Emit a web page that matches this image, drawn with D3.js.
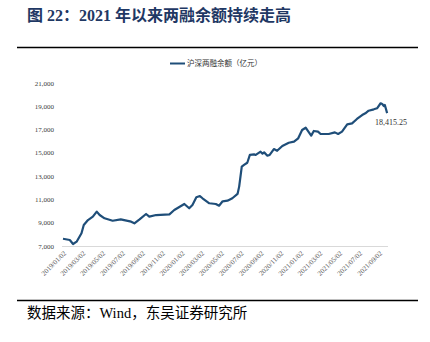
<!DOCTYPE html>
<html><head><meta charset="utf-8">
<script src="https://cdn.jsdelivr.net/npm/d3@7"></script>
<style>
html,body{margin:0;padding:0;background:#fff;}
svg{display:block;}
</style></head>
<body>
<svg id="c" width="430" height="342"></svg>
<script>
const titleText = "图 22：2021 年以来两融余额持续走高";
const sourceText = "数据来源：Wind，东吴证券研究所";
const seriesName = "沪深两融余额（亿元）";
const dates = ["2019-01-02","2019-01-23","2019-02-02","2019-02-13","2019-02-28","2019-03-07","2019-03-20","2019-04-04","2019-04-16","2019-04-25","2019-05-10","2019-06-04","2019-06-29","2019-07-31","2019-08-10","2019-08-26","2019-09-15","2019-09-25","2019-10-16","2019-11-26","2019-12-11","2020-01-11","2020-01-26","2020-02-05","2020-02-17","2020-02-28","2020-03-07","2020-03-28","2020-04-17","2020-04-27","2020-05-08","2020-05-23","2020-06-07","2020-06-23","2020-06-28","2020-07-06","2020-07-13","2020-07-23","2020-07-31","2020-08-13","2020-08-18","2020-09-02","2020-09-08","2020-09-13","2020-09-23","2020-09-30","2020-10-13","2020-10-23","2020-11-08","2020-11-28","2020-12-14","2020-12-27","2021-01-08","2021-01-19","2021-01-29","2021-02-05","2021-02-13","2021-02-26","2021-03-06","2021-03-31","2021-04-19","2021-04-29","2021-05-11","2021-05-27","2021-06-11","2021-06-26","2021-07-12","2021-07-22","2021-08-01","2021-08-17","2021-08-27","2021-09-07","2021-09-12","2021-09-17","2021-09-20","2021-09-27"];
const values = [7620,7515,7170,7370,8090,8800,9230,9520,9950,9660,9380,9170,9290,9090,8950,9290,9750,9520,9660,9720,10090,10610,10240,10520,11180,11290,11100,10670,10610,10460,10840,10890,11100,11470,12100,13810,13960,14150,14820,14870,14820,15100,14930,15040,14760,14820,15330,15180,15590,15870,15960,16250,16960,17160,16760,16480,16880,16820,16620,16620,16760,16620,16820,17450,17530,17910,18250,18400,18620,18740,18830,19260,19200,19020,19110,18415.25];
const yTicks = [7000,9000,11000,13000,15000,17000,19000,21000];
const xTickLabels = ["2019/01/02","2019/03/02","2019/05/02","2019/07/02","2019/09/02","2019/11/02","2020/01/02","2020/03/02","2020/05/02","2020/07/02","2020/09/02","2020/11/02","2021/01/02","2021/03/02","2021/05/02","2021/07/02","2021/09/02"];
const lastLabel = "18,415.25";

const svg = d3.select("#c");
const parse = d3.timeParse("%Y-%m-%d");
const parseT = d3.timeParse("%Y/%m/%d");
const data = dates.map((d,i)=>({d:parse(d), v:values[i]}));

const x = d3.scaleTime().domain([parseT(xTickLabels[0]), parseT(xTickLabels[xTickLabels.length-1])]).range([63,379]);
const y = d3.scaleLinear().domain([7000,21000]).range([246,83]);

const serif = "'Liberation Serif','Noto Sans CJK SC',serif";
const cjk = "'Liberation Serif','Noto Sans CJK SC',sans-serif";

svg.append("line").attr("x1",17).attr("x2",418).attr("y1",47.5).attr("y2",47.5).attr("stroke","#000").attr("stroke-width",1.5);
svg.append("line").attr("x1",17).attr("x2",418).attr("y1",300.5).attr("y2",300.5).attr("stroke","#000").attr("stroke-width",1.5);

svg.append("text").attr("x",27).attr("y",21).attr("font-family",cjk).attr("font-weight","bold").attr("font-size",16).attr("fill","#1f3864").text(titleText);
svg.append("text").attr("x",27).attr("y",318).attr("font-family",cjk).attr("font-size",14.5).attr("fill","#000").text(sourceText);

svg.append("line").attr("x1",62).attr("x2",388).attr("y1",246.5).attr("y2",246.5).attr("stroke","#d9d9d9").attr("stroke-width",1);

svg.append("g").selectAll("text").data(yTicks).join("text")
  .attr("x",54).attr("y",d=>y(d)+2.5).attr("text-anchor","end")
  .attr("font-family",serif).attr("font-size",7).attr("fill","#404040")
  .text(d=>d3.format(",")(d));

svg.append("g").selectAll("text").data(xTickLabels).join("text")
  .attr("transform",t=>`translate(${x(parseT(t))+2},${252}) rotate(-45)`)
  .attr("text-anchor","end").attr("dy","0.35em")
  .attr("font-family",serif).attr("font-size",7).attr("fill","#595959")
  .text(t=>t);

const line = d3.line().x(d=>x(d.d)).y(d=>y(d.v)).curve(d3.curveLinear);
svg.append("path").datum(data).attr("d",line).attr("fill","none").attr("stroke","#1f4e79").attr("stroke-width",2.2).attr("stroke-linejoin","round");

const last = data[data.length-1];
svg.append("text").attr("x",x(last.d)-12).attr("y",y(last.v)+12).attr("font-family",serif).attr("font-size",8).attr("fill","#333").text(lastLabel);

svg.append("line").attr("x1",170).attr("x2",185).attr("y1",63.5).attr("y2",63.5).attr("stroke","#1f4e79").attr("stroke-width",2);
svg.append("text").attr("x",187).attr("y",66).attr("font-family",cjk).attr("font-size",7.5).attr("fill","#333").text(seriesName);
</script>
</body></html>
